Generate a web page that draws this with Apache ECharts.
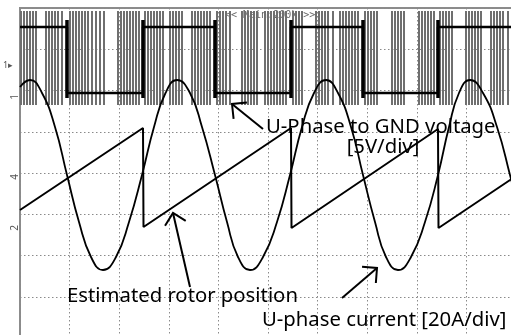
<!DOCTYPE html>
<html><head><meta charset="utf-8">
<script src="https://cdn.jsdelivr.net/npm/echarts@6/dist/echarts.min.js"></script>
<style>html,body{margin:0;padding:0;background:#fff}#c{width:511px;height:335px}</style>
</head><body><div id="c"></div>
<script>
// Screen units: x 0..496 (10 div), y 0..330 (8 div)
const xMax = 496, xDiv = 49.6;
const yMax = 330, yDiv = 41.25;

// U-phase to GND voltage: switching instants and levels
const voltageSwitch = [47, 123, 195, 271, 343, 418];
const voltageHigh = 311, voltageLow = 245;
const spikeTop = 327, spikeBottom = 233;
// PWM spike positions
const pwmSpikes = [1,4,7,10,13,16,26,29,32,35,38,42,
  50,53,56,59,62,65,68,72,76,80,84,98,101,104,107,110,113,116,119,
  125,128,131,134,137,140,143,150,153,156,159,162,172,175,178,181,184,187,190,
  197,200,203,206,210,222,225,228,231,234,237,245,248,251,254,257,260,263,266,
  273,276,279,282,296,299,302,305,308,313,320,323,326,329,332,335,338,
  345,348,351,354,357,372,375,378,381,384,399,402,405,408,411,414,
  420,423,426,429,432,446,449,452,455,458,461,471,474,477,480,483,488];

// U-phase current
const currentX = [0,10,22,35,47,59,71,83,96,109,122,134,145.5,157,170,182,195,207,218,230,243,257,270,282,294,306,318,331,343,355,366,378,391,405,418,429,439,450,463,477,490,496];
const currentY = [251,258,245,211,163,116,81,68,81,116,163,211,245,258,245,211,163,116,81,68,81,116,163,211,245,258,245,211,163,116,81,68,81,116,163,211,245,258,245,211,163,138];

// Estimated rotor position (sawtooth)
const rotorX = [0,123,123.5,271,271.5,418,418.5,496];
const rotorY = [128,210,111,210,110,209,110,162];

// Annotation arrows [tailX, tailY, tipX, tipY]
const arrows = [[243,209,212,234],[170,51,153,125],[322,40,357,70]];
// Annotation labels [x, y, text, align]
const labels = [
  [246,211,'U-Phase to GND voltage','left'],
  [363,191,'[5V/div]','center'],
  [47,42,'Estimated rotor position','left'],
  [242,18,'U-phase current [20A/div]','left']
];
const topLabel = [205,323,'<< Main:200k >>'];

const vData = [[0, voltageHigh]];
let st = voltageHigh;
voltageSwitch.forEach(s => { vData.push([s, st]); st = (st === voltageHigh ? voltageLow : voltageHigh); vData.push([s, st]); });
vData.push([xMax, st]);

const chart = echarts.init(document.getElementById('c'), null, {renderer:'canvas'});
const font = '"Noto Sans", "Open Sans", sans-serif';
chart.setOption({
  animation: false,
  backgroundColor: '#fff',
  grid: {left: 20, top: 8, width: 496, height: 330, outerBoundsMode: 'none', containLabel: false, show: true, borderColor: '#8c8c8c', borderWidth: 2, backgroundColor:'#fff'},
  xAxis: {type:'value', min:0, max:xMax, interval:xDiv, axisLine:{show:false}, axisTick:{show:false}, axisLabel:{show:false},
    splitLine:{show:true, lineStyle:{color:'#8a8a8a', width:1, type:[1.5,2.5]}}},
  yAxis: {type:'value', min:0, max:yMax, interval:yDiv, axisLine:{show:false}, axisTick:{show:false}, axisLabel:{show:false},
    splitLine:{show:true, lineStyle:{color:'#8a8a8a', width:1, type:[1.5,2.5]}}},
  graphic: [
    {type:'text', left:3, top:61, style:{text:'1▸', fontSize:9, fill:'#555', fontFamily:font}},
    {type:'text', x:15, y:97, rotation:Math.PI/2, style:{text:'1', fontSize:10, fill:'#555', fontFamily:font, align:'center', verticalAlign:'middle'}},
    {type:'text', x:15, y:177, rotation:Math.PI/2, style:{text:'4', fontSize:10, fill:'#555', fontFamily:font, align:'center', verticalAlign:'middle'}},
    {type:'text', x:15, y:228, rotation:Math.PI/2, style:{text:'2', fontSize:10, fill:'#555', fontFamily:font, align:'center', verticalAlign:'middle'}}
  ],
  series: [
    {type:'custom', z:1, clip:false, data:[[topLabel[0], topLabel[1]]],
      renderItem:(p, api) => { const c = api.coord([api.value(0), api.value(1)]);
        return {type:'text', x:c[0], y:c[1], style:{text:topLabel[2], fontSize:10, fontFamily:'"DejaVu Sans Mono", monospace', fill:'#666', align:'left', verticalAlign:'middle'}}; }},
    {type:'custom', z:2, data: pwmSpikes.map(x => [x, spikeTop]),
      renderItem:(p, api) => { const x = api.value(0); const a = api.coord([x, spikeTop]), b = api.coord([x, spikeBottom]);
        return {type:'line', shape:{x1:a[0], y1:a[1], x2:b[0], y2:b[1]}, style:{stroke:'#6f6f6f', lineWidth:2}}; }},
    {type:'line', z:3, data:vData, symbol:'none', lineStyle:{color:'#000', width:2.4}},
    {type:'custom', z:3, data: voltageSwitch.map(x => [x, voltageHigh]),
      renderItem:(p, api) => { const x = api.value(0); const a = api.coord([x, voltageHigh+7]), b = api.coord([x, voltageLow-5]);
        return {type:'line', shape:{x1:a[0], y1:a[1], x2:b[0], y2:b[1]}, style:{stroke:'#000', lineWidth:3.5}}; }},
    {type:'line', z:4, data: currentX.map((x,i)=>[x,currentY[i]]), smooth:true, symbol:'none', lineStyle:{color:'#000', width:1.8}},
    {type:'line', z:4, data: rotorX.map((x,i)=>[x,rotorY[i]]), symbol:'none', lineStyle:{color:'#000', width:2}},
    {type:'custom', z:5, clip:false, data: arrows.map(a => [a[0], a[1]]),
      renderItem:(p, api) => { const d = arrows[p.dataIndex];
        const t = api.coord([d[0], d[1]]), h = api.coord([d[2], d[3]]);
        const ang = Math.atan2(t[1]-h[1], t[0]-h[0]), L = 15, A = Math.PI/4;
        const p1 = [h[0]+L*Math.cos(ang+A), h[1]+L*Math.sin(ang+A)];
        const p2 = [h[0]+L*Math.cos(ang-A), h[1]+L*Math.sin(ang-A)];
        return {type:'group', children:[
          {type:'line', shape:{x1:t[0], y1:t[1], x2:h[0], y2:h[1]}, style:{stroke:'#000', lineWidth:2}},
          {type:'polyline', shape:{points:[p1, h, p2]}, style:{stroke:'#000', lineWidth:2, fill:null}}]}; }},
    {type:'custom', z:6, clip:false, data: labels.map(l => [l[0], l[1]]),
      renderItem:(p, api) => { const l = labels[p.dataIndex]; const c = api.coord([l[0], l[1]]);
        return {type:'text', x:c[0], y:c[1], style:{text:l[2], fontSize:20.3, fontFamily:font, fill:'#000', align:l[3], verticalAlign:'middle'}}; }}
  ]
});
</script></body></html>
